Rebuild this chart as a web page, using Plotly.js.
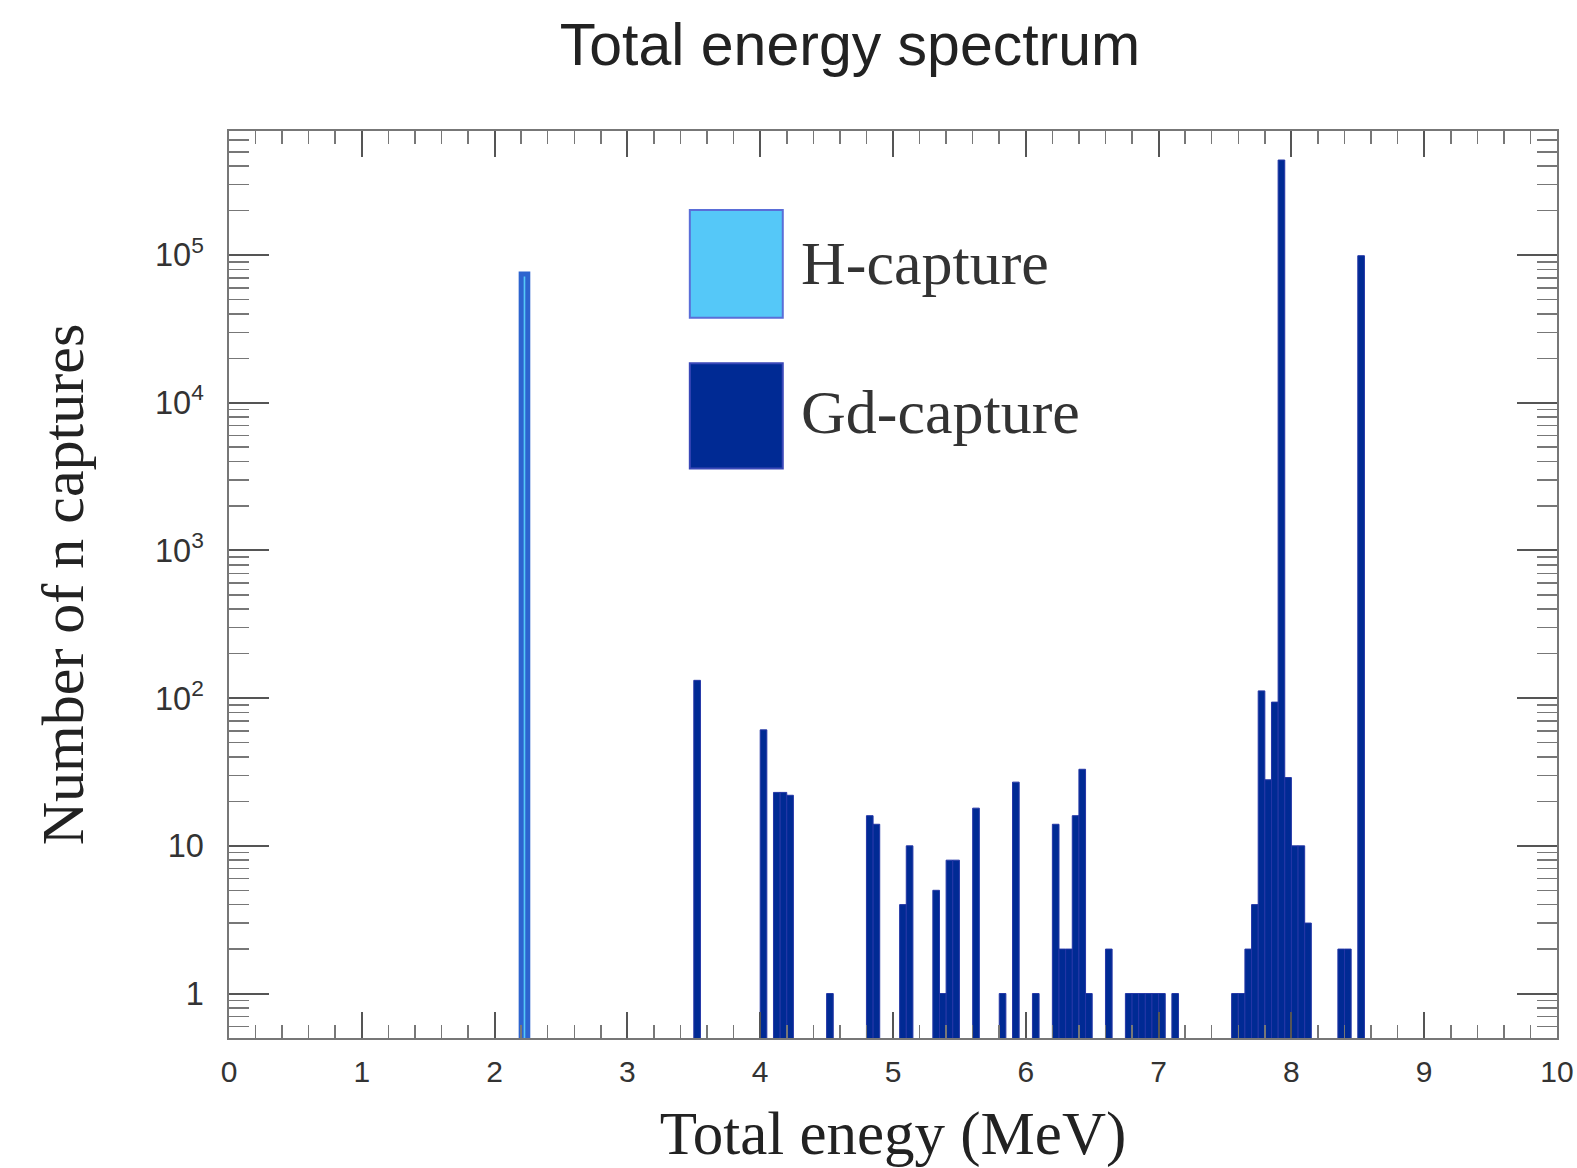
<!DOCTYPE html>
<html>
<head>
<meta charset="utf-8">
<script src="https://cdn.plot.ly/plotly-3.0.1.min.js"></script>
<style>
  html, body { margin: 0; padding: 0; background: #ffffff; }
  #chart { width: 1577px; height: 1168px; }
</style>
</head>
<body>
<div id="chart"></div>
<script>
// ---- Data (bin width 0.05 MeV) ----
const binWidth = 0.05;

// H-capture: lower bin edges (MeV) and counts
const hEnergy = [2.20];
const hCounts = [74500];

// Gd-capture: lower bin edges (MeV) and counts
const gdEnergy = [3.50, 4.00, 4.10, 4.15, 4.20, 4.50, 4.80, 4.85, 5.05, 5.10,
                  5.30, 5.35, 5.40, 5.45, 5.60, 5.80, 5.90, 6.05, 6.20, 6.25,
                  6.30, 6.35, 6.40, 6.45, 6.60, 6.75, 6.80, 6.85, 6.90, 6.95,
                  7.00, 7.10, 7.55, 7.60, 7.65, 7.70, 7.75, 7.80, 7.85, 7.90,
                  7.95, 8.00, 8.05, 8.10, 8.35, 8.40, 8.50];
const gdCounts = [132, 61, 23, 23, 22, 1, 16, 14, 4, 10,
                  5, 1, 8, 8, 18, 1, 27, 1, 14, 2,
                  2, 16, 33, 1, 2, 1, 1, 1, 1, 1,
                  1, 1, 1, 1, 2, 4, 112, 28, 94, 440000,
                  29, 10, 10, 3, 2, 2, 99000];

const seriesNames = ['H-capture', 'Gd-capture'];
const xTickVals = [0, 1, 2, 3, 4, 5, 6, 7, 8, 9, 10];

// ---- Styles ----
const hFill = '#55c8f8', hLine = '#2d64cf';
const gdFill = '#002a94', gdLine = '#2436a6';
const serif = 'Liberation Serif, Times New Roman, serif';
const sans = 'Liberation Sans, Arial, Helvetica, sans-serif';

const traces = [
  {
    type: 'bar', name: seriesNames[0],
    x: hEnergy, y: hCounts, width: binWidth, offset: 0,
    marker: { color: hFill, line: { color: hLine, width: 5 } }
  },
  {
    type: 'bar', name: seriesNames[1],
    x: gdEnergy, y: gdCounts, width: binWidth, offset: 0,
    marker: { color: gdFill, line: { color: gdLine, width: 1 } }
  }
];

// Custom large legend (boxes + labels) like the ROOT TLegend
const legendBoxes = [
  { name: seriesNames[0], fill: hFill, line: '#5a6ed8', y0: 0.794, y1: 0.913, ty: 0.854 },
  { name: seriesNames[1], fill: gdFill, line: '#3a48b8', y0: 0.628, y1: 0.744, ty: 0.690 }
];
const shapes = legendBoxes.map(b => ({
  type: 'rect', xref: 'paper', yref: 'paper',
  x0: 0.347, x1: 0.417, y0: b.y0, y1: b.y1,
  fillcolor: b.fill, line: { color: b.line, width: 2 }, layer: 'above'
}));
const annotations = legendBoxes.map(b => ({
  xref: 'paper', yref: 'paper', x: 0.4295, y: b.ty,
  xanchor: 'left', yanchor: 'middle', showarrow: false,
  text: b.name, font: { family: serif, size: 62, color: '#333' }
}));

const layout = {
  width: 1577, height: 1168,
  margin: { l: 229, r: 20, t: 131, b: 130 },
  paper_bgcolor: '#ffffff', plot_bgcolor: '#ffffff',
  showlegend: false,
  barmode: 'overlay', bargap: 0,
  title: {
    text: 'Total energy spectrum',
    font: { family: sans, size: 59, color: '#222' },
    x: 0.539, xanchor: 'center', y: 0.962, yanchor: 'middle'
  },
  xaxis: {
    range: [0, 10], tickvals: xTickVals,
    ticks: 'inside', ticklen: 26, tickwidth: 2, tickcolor: '#555',
    minor: { dtick: 0.2, tick0: 0, ticks: 'inside', ticklen: 13, tickwidth: 1.5, tickcolor: '#777' },
    showline: true, linecolor: '#777', linewidth: 2, mirror: 'ticks',
    showgrid: false, zeroline: false,
    tickfont: { family: sans, size: 30, color: '#333' },
    ticklabelstandoff: 6,
    title: { text: 'Total enegy (MeV)', font: { family: serif, size: 61, color: '#222' }, standoff: 28 }
  },
  yaxis: {
    type: 'log', range: [-0.301, 5.84], dtick: 1,
    exponentformat: 'power',
    ticks: 'inside', ticklen: 40, tickwidth: 2, tickcolor: '#555',
    minor: { dtick: 'D1', ticks: 'inside', ticklen: 20, tickwidth: 1.5, tickcolor: '#777' },
    showline: true, linecolor: '#777', linewidth: 2, mirror: 'ticks',
    showgrid: false, zeroline: false,
    tickfont: { family: sans, size: 26, color: '#333' },
    ticklabelstandoff: 18,
    title: { text: 'Number of n captures', font: { family: serif, size: 60, color: '#222' }, standoff: 52 }
  },
  shapes: shapes,
  annotations: annotations
};

Plotly.newPlot('chart', traces, layout, { staticPlot: true, displayModeBar: false });
</script>
</body>
</html>
